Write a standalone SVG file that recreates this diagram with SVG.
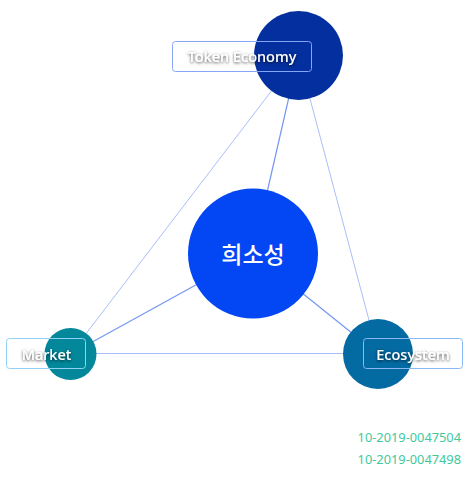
<svg xmlns="http://www.w3.org/2000/svg" width="468" height="478" viewBox="0 0 468 478">
<defs>
<filter id="ts" x="-20%" y="-50%" width="140%" height="200%">
<feDropShadow dx="0" dy="1" stdDeviation="1.8" flood-color="#000" flood-opacity="0.75"/>
</filter>
</defs>
<style>
.tri{stroke:#a9bff8;stroke-width:1;fill:none}
.spoke{stroke:#7497f3;stroke-width:1.2;fill:none}
.box{fill:none;stroke-width:1}
.lbl{font-family:"Noto Sans","Open Sans",sans-serif;font-size:14.5px;font-weight:500;fill:#fff;text-anchor:middle;filter:url(#ts)}
.num{font-family:"Noto Sans","Open Sans",sans-serif;font-size:12.8px;fill:#3fc99d;text-anchor:end}
</style>
<rect width="468" height="478" fill="#fff"/>
<g id="connectors">
<line class="tri" x1="298.5" y1="55.5" x2="70.5" y2="354"/>
<line class="tri" x1="298.5" y1="55.5" x2="378" y2="354"/>
<line class="tri" x1="70.5" y1="353.5" x2="378" y2="353.5"/>
<line class="spoke" x1="253" y1="253.5" x2="298.5" y2="55.5"/>
<line class="spoke" x1="253" y1="253.5" x2="70.5" y2="354"/>
<line class="spoke" x1="253" y1="253.5" x2="378" y2="354"/>
</g>
<g id="center">
<circle cx="253" cy="253.5" r="65" fill="#0346f4"/>
<text x="253" y="262.5" font-family="'Noto Sans CJK KR',sans-serif" font-size="23" font-weight="500" fill="#fff" text-anchor="middle">희소성</text>
</g>
<g id="token-economy">
<circle cx="298.5" cy="55.5" r="44.5" fill="#032f9f"/>
<rect class="box" x="172.5" y="41.5" width="139" height="30" rx="3" stroke="#87a5f5"/>
<text class="lbl" x="242" y="62">Token Economy</text>
</g>
<g id="market">
<circle cx="70.5" cy="354" r="26" fill="#02879b"/>
<rect class="box" x="6.5" y="338.5" width="79" height="30" rx="3" stroke="#8fd2f6"/>
<text class="lbl" x="46.5" y="359.5">Market</text>
</g>
<g id="ecosystem">
<circle cx="378" cy="354" r="35" fill="#036aa2"/>
<rect class="box" x="363.5" y="338.5" width="99" height="30" rx="3" stroke="#8ab8f5"/>
<text class="lbl" x="413" y="359.5">Ecosystem</text>
</g>
<g id="numbers">
<text class="num" x="461" y="442">10-2019-0047504</text>
<text class="num" x="461" y="464">10-2019-0047498</text>
</g>
</svg>
